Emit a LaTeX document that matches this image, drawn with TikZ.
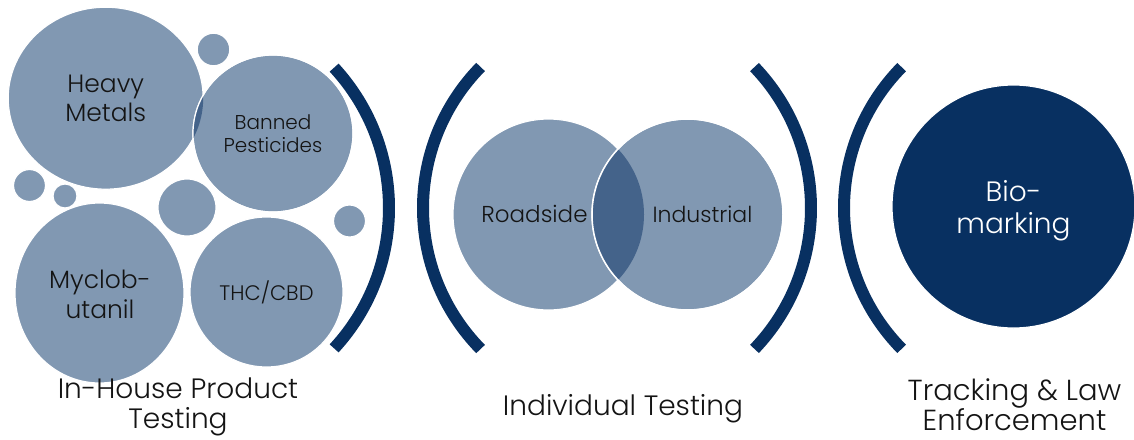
\documentclass[tikz,border=0pt]{standalone}
\usepackage{fontspec}
\setmainfont{Poppins}[UprightFont=* Light]
\usetikzlibrary{shapes.geometric}
\definecolor{lightc}{RGB}{129,152,178}
\definecolor{navy}{RGB}{8,48,97}
\definecolor{lensc}{RGB}{68,99,138}
\definecolor{txt}{RGB}{20,20,20}
\tikzset{
  blob/.style={ellipse, fill=lightc, draw=white, line width=1.2pt, inner sep=0pt, text=txt, align=center},
  darkblob/.style={ellipse, fill=navy, draw=white, line width=1.2pt, inner sep=0pt, text=white, align=center},
  bracket/.style={draw=navy, line width=12pt, line cap=butt},
  label/.style={text=txt, align=center, inner sep=0pt},
}
\begin{document}
\begin{tikzpicture}[x=1pt,y=-1pt]
\useasboundingbox (0,0) rectangle (1134,439);
% ---- left group ----
\node[blob, minimum width=195pt, minimum height=182pt, font=\fontsize{25}{28.5}\selectfont] (heavy) at (105.7,98.2) {Heavy\\Metals};
\node[blob, minimum width=32.6pt, minimum height=32.6pt] (s1) at (213.5,49.5) {};
\node[blob, minimum width=32pt, minimum height=32pt] (s2) at (29.5,185.5) {};
\node[blob, minimum width=24pt, minimum height=24pt] (s3) at (65,196) {};
\node[blob, minimum width=58pt, minimum height=57pt] (s4) at (187,207.5) {};
\node[blob, minimum width=32pt, minimum height=32pt] (s5) at (349.5,221) {};
\node[blob, minimum width=169pt, minimum height=180pt] (myclo) at (99.5,293) {};
\node[label, font=\fontsize{25}{30}\selectfont, anchor=base] (myclot) at (100,318.3) {Myclob-\\utanil};
\node[blob, minimum width=153pt, minimum height=150pt, font=\fontsize{21}{22}\selectfont] (thc) at (266.5,292) {THC/CBD};
\node[blob, minimum width=160pt, minimum height=157pt] (banned) at (273,133.5) {};
\begin{scope}
  \clip (273,133.5) ellipse [x radius=80pt, y radius=78.5pt];
  \fill[lensc] (105.7,98.2) ellipse [x radius=97.5pt, y radius=91pt];
\end{scope}
\draw[white, line width=1.2pt] (273,133.5) ellipse [x radius=80pt, y radius=78.5pt];
\node[label, font=\fontsize{20}{22.4}\selectfont] (bannedt) at (banned.center) {Banned\\Pesticides};
% bracket 1
\draw[bracket] (182,208) ++(-42.7:207pt) arc[start angle=-42.7, end angle=42.7, radius=207pt];
% ---- middle group ----
\draw[bracket] (624.6,208) ++(135.6:201.6pt) arc[start angle=135.6, end angle=224.4, radius=201.6pt];
\draw[bracket] (607,208) ++(-43.7:204pt) arc[start angle=-43.7, end angle=43.7, radius=204pt];
\node[blob, minimum size=191pt] (road) at (548.5,214.5) {};
\node[blob, minimum size=191pt] (indu) at (687.5,214.5) {};
\begin{scope}
  \clip (548.5,214.5) circle [radius=95.5pt];
  \fill[lensc] (687.5,214.5) circle [radius=95.5pt];
\end{scope}
\draw[white, line width=1.5pt] (687.5,214.5) circle [radius=95.5pt];
\node[label, font=\fontsize{23}{24}\selectfont, anchor=base] (roadt) at (534.5,222.7) {Roadside};
\node[label, font=\fontsize{22}{24}\selectfont, anchor=base] (indut) at (702.5,222.7) {Industrial};
% ---- right group ----
\draw[bracket] (1045,208) ++(135.5:201pt) arc[start angle=135.5, end angle=224.5, radius=201pt];
\node[darkblob, minimum size=243pt] (bio) at (1013.5,206.5) {};
\node[label, text=white, font=\fontsize{28}{32}\selectfont, anchor=base] (biot) at (1013.5,233.3) {Bio-\\marking};
% ---- labels ----
\node[label, font=\fontsize{28}{29.5}\selectfont, anchor=base] (l1) at (178,428.3) {In-House Product\\Testing};
\node[label, font=\fontsize{28}{29.5}\selectfont, anchor=base] (l2) at (623,415) {Individual Testing};
\node[label, font=\fontsize{29}{30}\selectfont, anchor=base] (l3) at (1014.5,430) {Tracking \& Law\\Enforcement};
\end{tikzpicture}
\end{document}
